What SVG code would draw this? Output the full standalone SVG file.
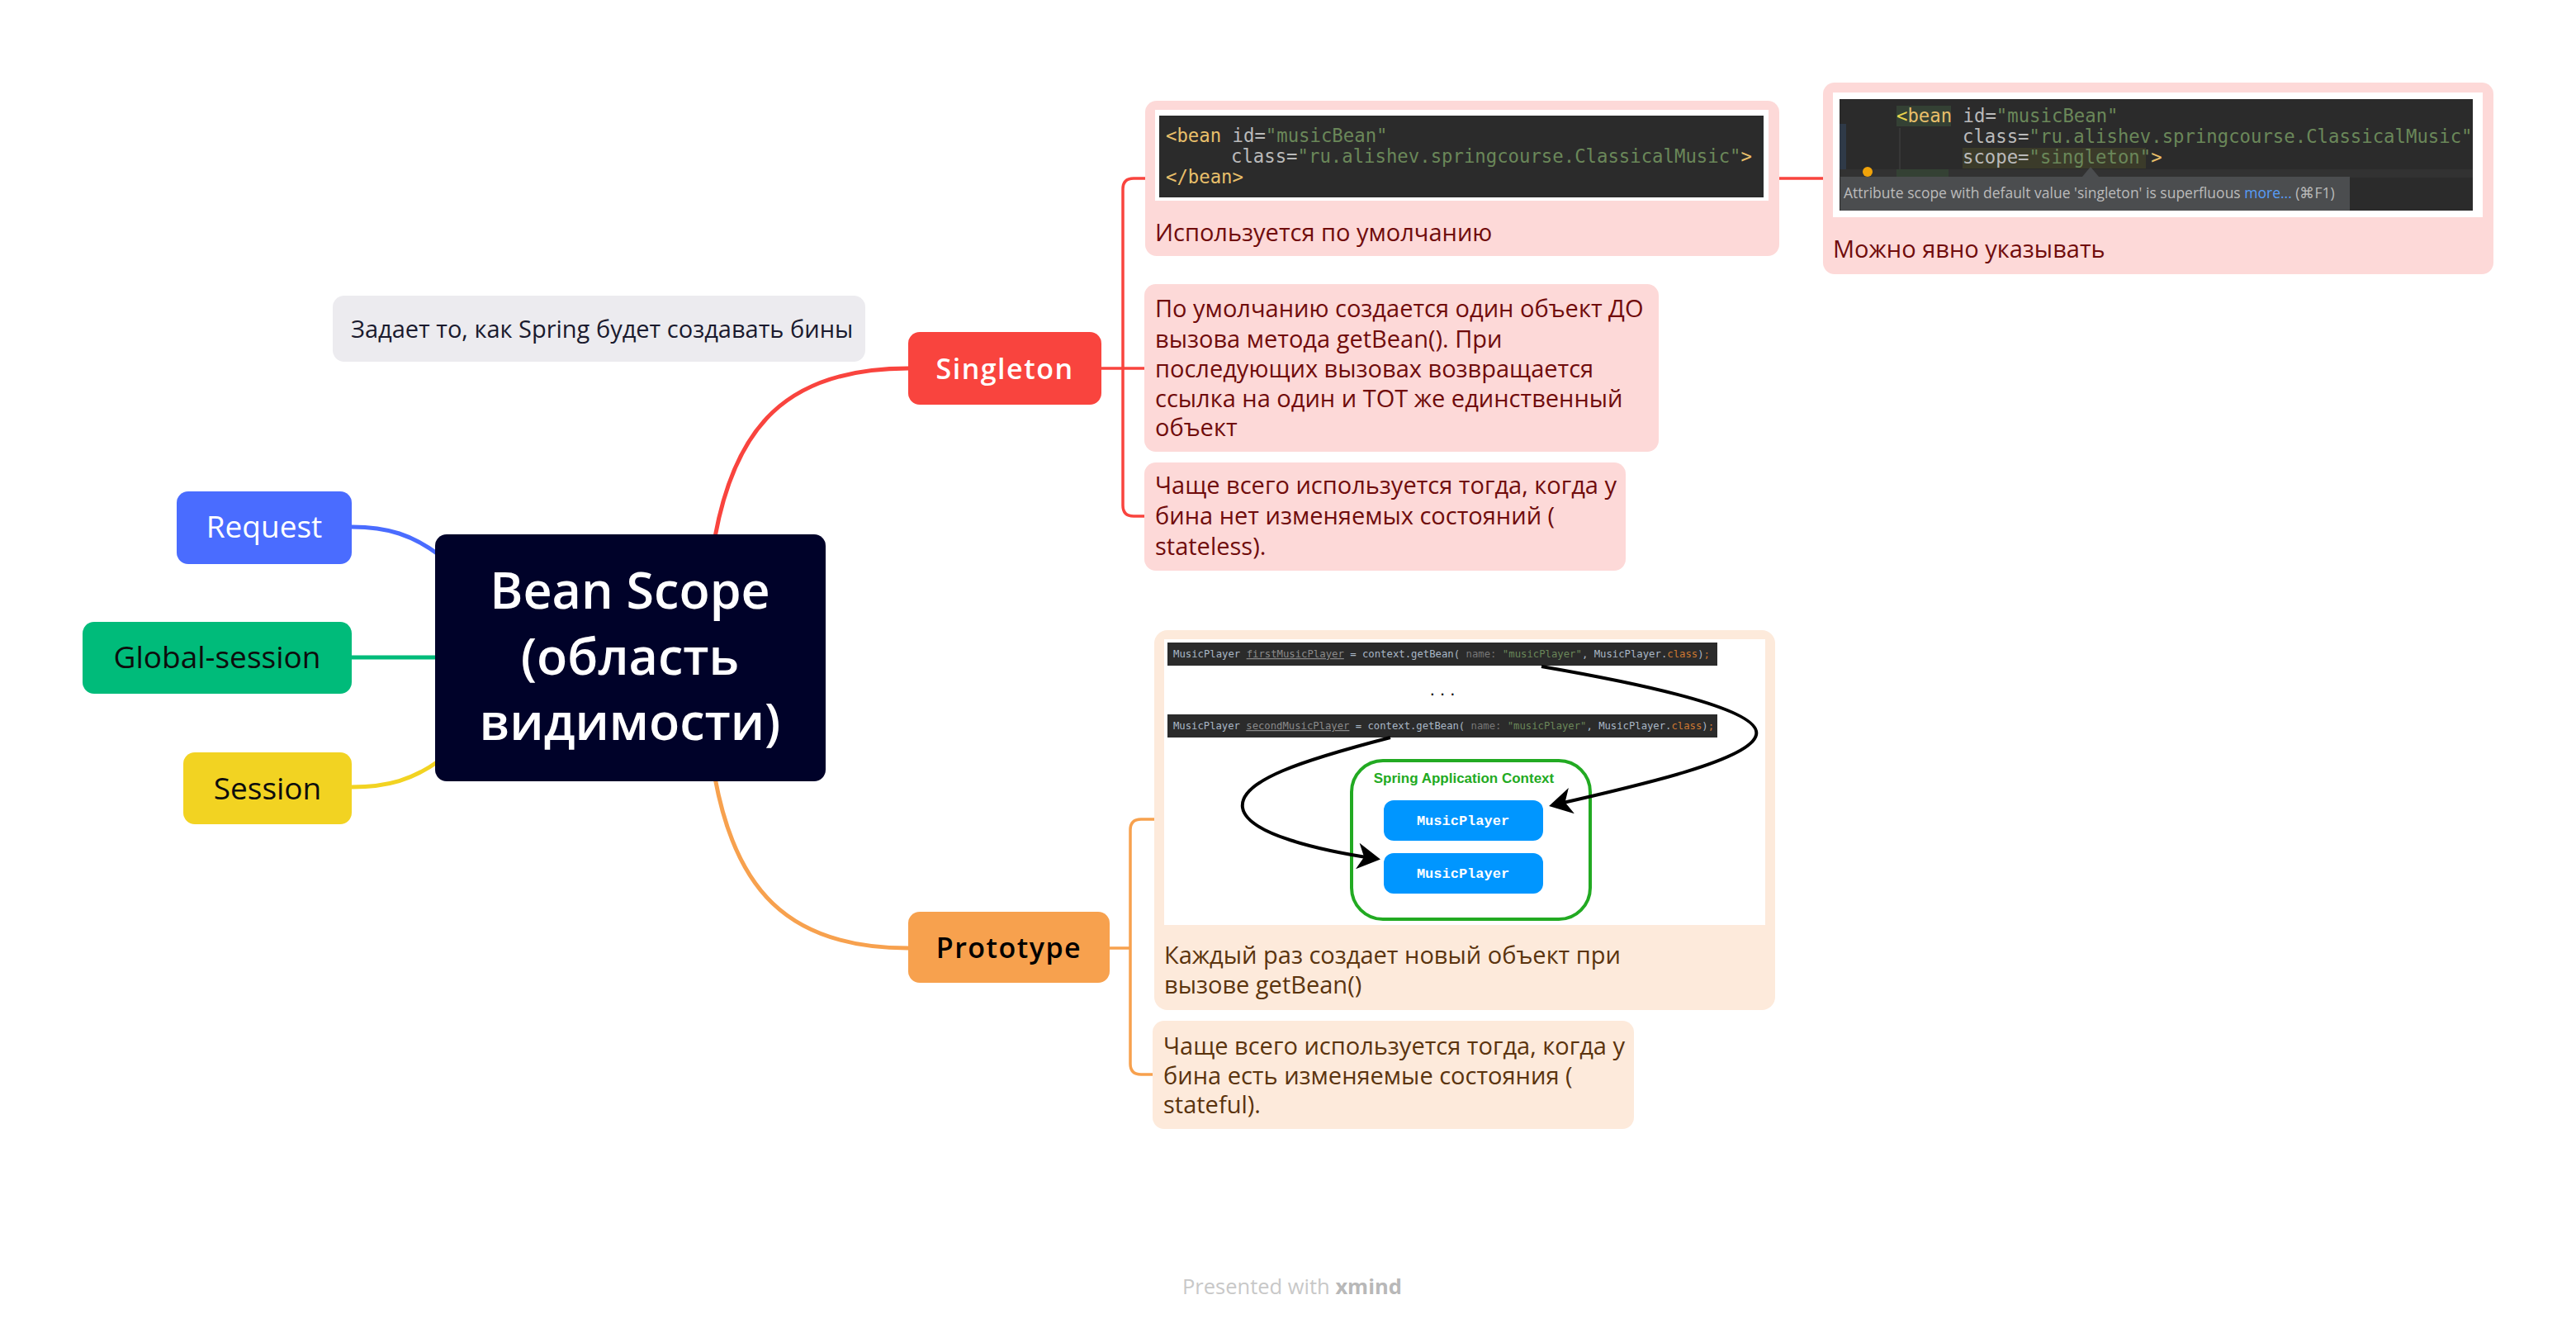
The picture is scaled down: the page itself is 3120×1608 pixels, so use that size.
<svg xmlns="http://www.w3.org/2000/svg" width="3120" height="1608" viewBox="0 0 3120 1608">
<defs>
<style>
.t{font-family:"Open Sans","Noto Sans","Liberation Sans",sans-serif}
.pk{fill:#fdd9d8}
.og{fill:#fdeadb}
.pt{font-family:"Open Sans","Noto Sans","Liberation Sans",sans-serif;font-size:29px;fill:#700c0c}
.ot{font-family:"Open Sans","Noto Sans","Liberation Sans",sans-serif;font-size:29px;fill:#5b340e}
.code{font-family:"DejaVu Sans Mono","Liberation Mono",monospace;font-size:22.3px;fill:#bababa}
.tag{fill:#e8bf6a}
.val{fill:#6a8759}
.cs{font-family:"DejaVu Sans Mono","Liberation Mono",monospace;font-size:12.3px;fill:#a9b7c6}
.lvl1{fill:none;stroke-width:5;stroke-linecap:round}
.br{fill:none;stroke-width:3.5}
.arr{fill:none;stroke:#000;stroke-width:4}
</style>
<marker id="ah" markerWidth="8" markerHeight="8" refX="6" refY="4" orient="auto" markerUnits="strokeWidth">
<path d="M0,0 L7,4 L0,8 L2,4 Z" fill="#000"/>
</marker>
</defs>
<rect width="3120" height="1608" fill="#ffffff"/>

<g id="connectors">
<path class="lvl1" stroke="#4a6cff" d="M426,638 C470,638 500,648 532,672"/>
<path class="lvl1" stroke="#00bb7a" d="M426,796 L530,796"/>
<path class="lvl1" stroke="#f2d322" d="M426,953 C470,953 500,944 532,921"/>
<path class="lvl1" stroke="#f9443e" d="M866,650 C890,520 950,446 1100,446"/>
<path class="lvl1" stroke="#f7a14e" d="M866,942 C890,1072 950,1148 1100,1148"/>
<path class="br" stroke="#f9443e" d="M1334,446 L1387,446 M1387,216 L1373,216 Q1360,216 1360,229 L1360,612 Q1360,625 1373,625 L1387,625 M2155,216 L2208,216"/>
<path class="br" stroke="#f7a14e" d="M1344,1148 L1369,1148 M1398,992 L1382,992 Q1369,992 1369,1005 L1369,1288 Q1369,1301 1382,1301 L1396,1301"/>
</g>

<g id="central">
<rect x="527" y="647" width="473" height="299" rx="14" fill="#000229"/>
<g class="t" font-size="61" font-weight="600" fill="#ffffff" text-anchor="middle">
<text x="763" y="737">Bean Scope</text>
<text x="763" y="817">(область</text>
<text x="763" y="896">видимости)</text>
</g>
</g>

<g id="note">
<rect x="403" y="358" width="645" height="80" rx="14" fill="#ecebef"/>
<text class="t" x="425" y="409" font-size="29" fill="#1a1a2e">Задает то, как Spring будет создавать бины</text>
</g>

<g id="request">
<rect x="214" y="595" width="212" height="88" rx="14" fill="#4a6cff"/>
<text class="t" x="320" y="651" font-size="37" fill="#ffffff" text-anchor="middle">Request</text>
</g>
<g id="global-session">
<rect x="100" y="753" width="326" height="87" rx="14" fill="#00bb7a"/>
<text class="t" x="263" y="809" font-size="37" fill="#0d0d0d" text-anchor="middle">Global-session</text>
</g>
<g id="session">
<rect x="222" y="911" width="204" height="87" rx="14" fill="#f2d322"/>
<text class="t" x="324" y="968" font-size="37" fill="#0d0d0d" text-anchor="middle">Session</text>
</g>

<g id="singleton">
<rect x="1100" y="402" width="234" height="88" rx="14" fill="#f9443e"/>
<text class="t" x="1217" y="459" font-size="34" font-weight="600" letter-spacing="1.5" fill="#ffffff" text-anchor="middle">Singleton</text>
</g>
<g id="prototype">
<rect x="1100" y="1104" width="244" height="86" rx="14" fill="#f7a14e"/>
<text class="t" x="1222" y="1160" font-size="34" font-weight="600" letter-spacing="1.5" fill="#000000" text-anchor="middle">Prototype</text>
</g>

<g id="singleton-default">
<rect class="pk" x="1387" y="122" width="768" height="188" rx="14"/>
<rect x="1399" y="133" width="743" height="110" fill="#ffffff"/>
<rect x="1404" y="140" width="732" height="99" fill="#2b2b2b"/>
<text class="code" x="1412" y="172"><tspan class="tag">&lt;bean</tspan> id=<tspan class="val">"musicBean"</tspan></text>
<text class="code" x="1491" y="197">class=<tspan class="val">"ru.alishev.springcourse.ClassicalMusic"</tspan><tspan class="tag">&gt;</tspan></text>
<text class="code" x="1412" y="222"><tspan class="tag">&lt;/bean&gt;</tspan></text>
<text class="pt" x="1399" y="292">Используется по умолчанию</text>
</g>

<g id="singleton-explicit">
<rect class="pk" x="2208" y="100" width="812" height="232" rx="14"/>
<rect x="2220" y="112" width="787" height="151" fill="#ffffff"/>
<rect x="2228" y="120" width="767" height="135" fill="#2b2b2b"/>
<rect x="2228" y="150" width="8" height="60" fill="#2f3a48"/>
<rect x="2228" y="205" width="767" height="10" fill="#323232"/>
<line x1="2301" y1="155" x2="2301" y2="205" stroke="#3c3c3c" stroke-width="1.5"/>
<rect x="2297" y="128" width="66" height="25" fill="#344134"/>
<rect x="2377" y="179" width="222" height="25" fill="#3b3b2a"/>
<rect x="2297" y="205" width="63" height="10" fill="#344134"/>
<circle cx="2262" cy="208" r="6" fill="#f0a30a"/>
<text class="code" x="2297" y="148"><tspan fill="#e8d44d">&lt;</tspan><tspan class="tag">bean</tspan> id=<tspan class="val">"musicBean"</tspan></text>
<text class="code" x="2377" y="173">class=<tspan class="val">"ru.alishev.springcourse.ClassicalMusic"</tspan></text>
<text class="code" x="2377" y="198">scope=<tspan class="val">"singleton"</tspan><tspan class="tag">&gt;</tspan></text>
<path d="M2522,214 L2532,202 L2542,214 Z" fill="#4b4d4f"/>
<rect x="2229" y="214" width="617" height="41" fill="#4b4d4f"/>
<text class="t" x="2233" y="240" font-size="17.5" fill="#bbbbbb">Attribute scope with default value 'singleton' is superfluous <tspan fill="#589df6">more...</tspan> (⌘F1)</text>
<text class="pt" x="2220" y="312">Можно явно указывать</text>
</g>

<g id="singleton-one-object">
<rect class="pk" x="1386" y="344" width="623" height="203" rx="14"/>
<text class="pt" x="1399" y="384">По умолчанию создается один объект ДО</text>
<text class="pt" x="1399" y="421">вызова метода getBean(). При</text>
<text class="pt" x="1399" y="457">последующих вызовах возвращается</text>
<text class="pt" x="1399" y="493">ссылка на один и ТОТ же единственный</text>
<text class="pt" x="1399" y="528">объект</text>
</g>

<g id="singleton-stateless">
<rect class="pk" x="1386" y="560" width="583" height="131" rx="14"/>
<text class="pt" x="1399" y="598">Чаще всего используется тогда, когда у</text>
<text class="pt" x="1399" y="635">бина нет изменяемых состояний (</text>
<text class="pt" x="1399" y="672">stateless).</text>
</g>

<g id="prototype-new">
<rect class="og" x="1398" y="763" width="752" height="460" rx="16"/>
<rect x="1410" y="774" width="728" height="346" fill="#ffffff"/>
<rect x="1414" y="778" width="666" height="28" fill="#2b2b2b"/>
<text class="cs" x="1421" y="796" textLength="650" lengthAdjust="spacingAndGlyphs">MusicPlayer <tspan fill="#8a8a8a" text-decoration="underline">firstMusicPlayer</tspan> = context.getBean( <tspan fill="#777777">name:</tspan> <tspan fill="#6a8759">"musicPlayer"</tspan>, MusicPlayer.<tspan fill="#cc7832">class</tspan>)<tspan fill="#cc7832">;</tspan></text>
<text x="1747" y="842" font-family="Liberation Sans,sans-serif" font-size="22" fill="#000" text-anchor="middle">. . .</text>
<rect x="1414" y="865" width="666" height="28" fill="#2b2b2b"/>
<text class="cs" x="1421" y="883" textLength="655" lengthAdjust="spacingAndGlyphs">MusicPlayer <tspan fill="#8a8a8a" text-decoration="underline">secondMusicPlayer</tspan> = context.getBean( <tspan fill="#777777">name:</tspan> <tspan fill="#6a8759">"musicPlayer"</tspan>, MusicPlayer.<tspan fill="#cc7832">class</tspan>)<tspan fill="#cc7832">;</tspan></text>
<rect x="1637" y="921" width="289" height="192" rx="38" fill="none" stroke="#22aa22" stroke-width="4"/>
<text x="1773" y="948" font-family="Liberation Sans,sans-serif" font-size="17" font-weight="bold" fill="#22aa22" text-anchor="middle">Spring Application Context</text>
<rect x="1676" y="969" width="193" height="49" rx="12" fill="#0096ff"/>
<text x="1772" y="999" font-family="Liberation Mono,monospace" font-size="17" font-weight="bold" fill="#ffffff" text-anchor="middle">MusicPlayer</text>
<rect x="1676" y="1033" width="193" height="49" rx="12" fill="#0096ff"/>
<text x="1772" y="1063" font-family="Liberation Mono,monospace" font-size="17" font-weight="bold" fill="#ffffff" text-anchor="middle">MusicPlayer</text>
<path class="arr" marker-end="url(#ah)" d="M1867,807 C2000,830 2135,860 2127,890 C2120,920 1990,950 1880,975"/>
<path class="arr" marker-end="url(#ah)" d="M1684,893 C1580,920 1500,945 1505,978 C1510,1010 1600,1030 1668,1040"/>
<text class="ot" x="1410" y="1167">Каждый раз создает новый объект при</text>
<text class="ot" x="1410" y="1203">вызове getBean()</text>
</g>

<g id="prototype-stateful">
<rect class="og" x="1396" y="1236" width="583" height="131" rx="14"/>
<text class="ot" x="1409" y="1277">Чаще всего используется тогда, когда у</text>
<text class="ot" x="1409" y="1313">бина есть изменяемые состояния (</text>
<text class="ot" x="1409" y="1348">stateful).</text>
</g>

<g id="footer">
<text class="t" x="1432" y="1567" font-size="25.5" fill="#c8c8c8">Presented with <tspan font-weight="bold" fill="#b8b8b8">xmind</tspan></text>
</g>
</svg>
